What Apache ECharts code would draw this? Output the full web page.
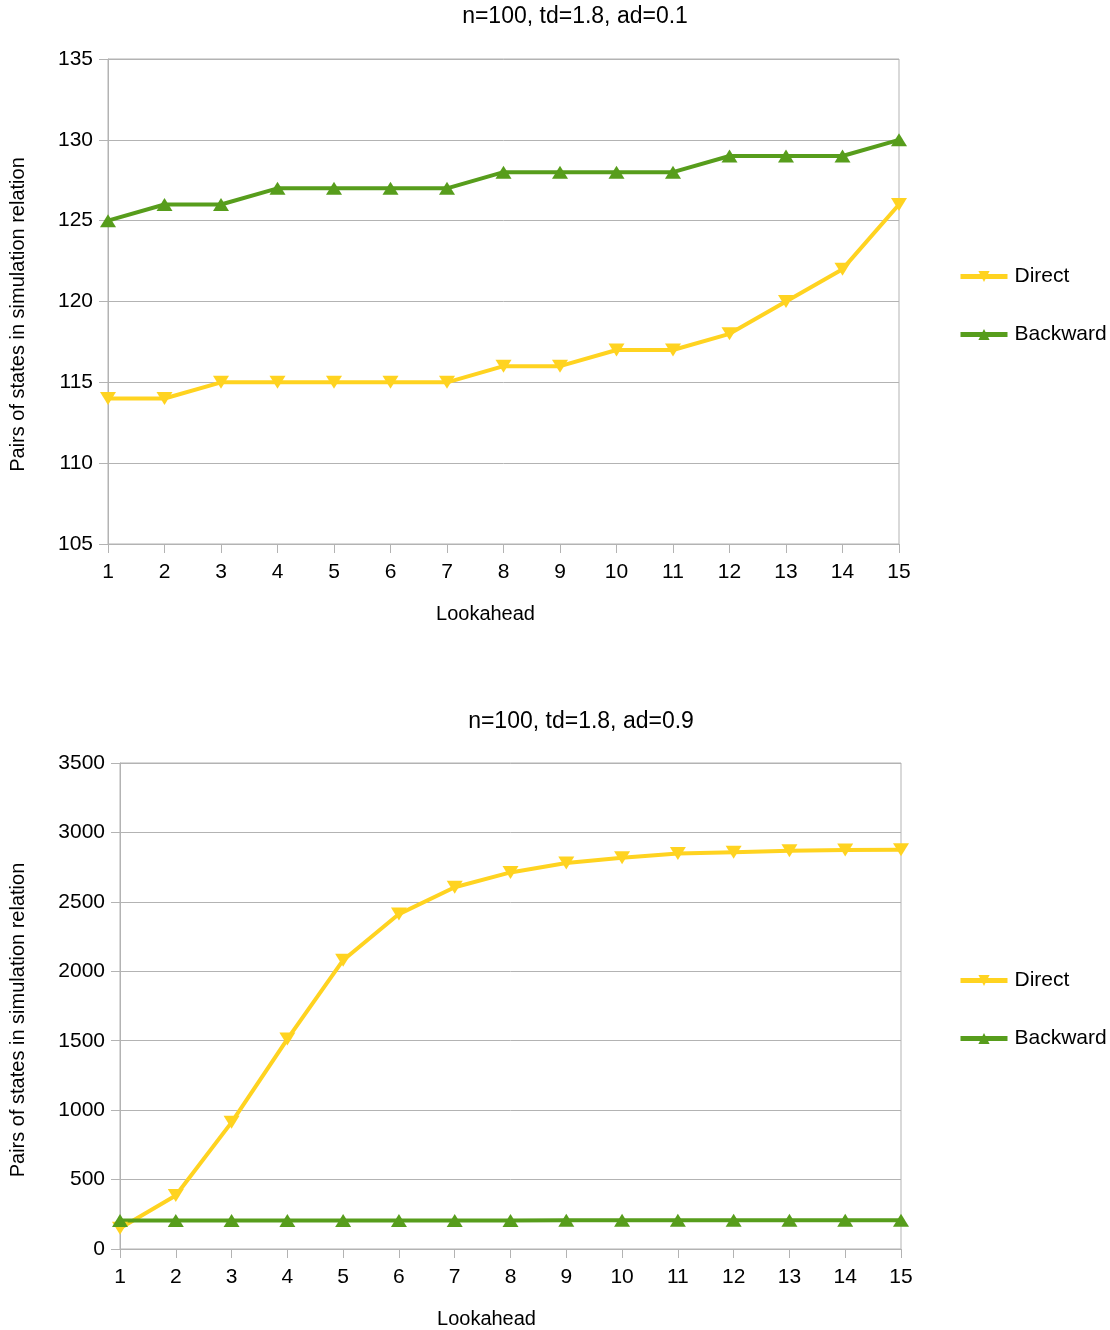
<!DOCTYPE html>
<html>
<head>
<meta charset="utf-8">
<title>Simulation relation size vs lookahead</title>
<script src="https://cdn.jsdelivr.net/npm/echarts@6/dist/echarts.min.js"></script>
<style>
  html, body { margin: 0; padding: 0; background: #ffffff; }
  #chart { width: 1110px; height: 1330px; }
</style>
</head>
<body>
<div id="chart"></div>
<script>
// Lookahead values shared by both panels
const lookahead = ['1','2','3','4','5','6','7','8','9','10','11','12','13','14','15'];

// Panel 1: n=100, td=1.8, ad=0.1
const title1 = 'n=100, td=1.8, ad=0.1';
const direct1   = [114, 114, 115, 115, 115, 115, 115, 116, 116, 117, 117, 118, 120, 122, 126];
const backward1 = [125, 126, 126, 127, 127, 127, 127, 128, 128, 128, 128, 129, 129, 129, 130];

// Panel 2: n=100, td=1.8, ad=0.9
const title2 = 'n=100, td=1.8, ad=0.9';
const direct2   = [150, 385, 912, 1512, 2080, 2412, 2605, 2712, 2780, 2818, 2848, 2858, 2868, 2873, 2876];
const backward2 = [205, 205, 205, 205, 206, 206, 206, 206, 207, 207, 207, 207, 207, 207, 207];

const seriesNames = ['Direct', 'Backward'];
const yAxisName = 'Pairs of states in simulation relation';
const xAxisName = 'Lookahead';

const FONT = '"Liberation Sans", Arial, sans-serif';
const YELLOW = '#ffd320';
const GREEN = '#579d1c';
const GRID_GREY = '#b3b3b3';
const TEXT = '#000000';
const DOWN_TRIANGLE = 'path://M0,0 L10,0 L5,9 Z';

// nameShift: extra right padding that moves the centred axis title left
function xAxisFor(gridIndex, nameShift) {
  return {
    type: 'category',
    gridIndex: gridIndex,
    data: lookahead,
    boundaryGap: false,
    name: xAxisName,
    nameLocation: 'middle',
    nameGap: 60,
    nameTextStyle: { fontFamily: FONT, fontSize: 20, color: TEXT, padding: [0, nameShift, 0, 0] },
    axisLine: { show: true, lineStyle: { color: GRID_GREY, width: 1 } },
    axisTick: { show: true, inside: false, length: 9, alignWithLabel: true, lineStyle: { color: GRID_GREY } },
    axisLabel: { fontFamily: FONT, fontSize: 21, color: TEXT, margin: 18 },
    splitLine: { show: false }
  };
}

// nameShift: extra padding at the end of the rotated title, moving it down
function yAxisFor(gridIndex, min, max, interval, nameGap, nameShift) {
  return {
    type: 'value',
    gridIndex: gridIndex,
    min: min,
    max: max,
    interval: interval,
    name: yAxisName,
    nameLocation: 'middle',
    nameGap: nameGap,
    nameTextStyle: { fontFamily: FONT, fontSize: 20, color: TEXT, padding: [0, nameShift, 0, 0] },
    axisLine: { show: true, lineStyle: { color: GRID_GREY, width: 1 } },
    axisTick: { show: true, inside: false, length: 9, lineStyle: { color: GRID_GREY } },
    axisLabel: { fontFamily: FONT, fontSize: 21, color: TEXT, margin: 15, formatter: function (v) { return String(v); } },
    splitLine: { show: true, lineStyle: { color: GRID_GREY, width: 1 } }
  };
}

function lineSeries(name, data, axisIndex, color, symbol) {
  return {
    name: name,
    type: 'line',
    xAxisIndex: axisIndex,
    yAxisIndex: axisIndex,
    data: data,
    symbol: symbol,
    symbolSize: [16, 13],
    showAllSymbol: true,
    clip: false,
    lineStyle: { color: color, width: 4 },
    itemStyle: { color: color },
    emphasis: { disabled: true },
    animation: false
  };
}

function legendFor(top) {
  return {
    orient: 'vertical',
    left: 958,
    top: top,
    padding: 0,
    itemWidth: 47,
    itemHeight: 14,
    itemGap: 37,
    lineStyle: { width: 5 },
    textStyle: { fontFamily: FONT, fontSize: 21, color: TEXT, padding: [0, 0, 0, 2] },
    data: seriesNames,
    selectedMode: false
  };
}

const chart = echarts.init(document.getElementById('chart'), null, { renderer: 'canvas' });

chart.setOption({
  backgroundColor: '#ffffff',
  animation: false,
  graphic: [
    { type: 'text', x: 575, y: 17, style: { text: title1, font: '23px ' + FONT, fill: TEXT, textAlign: 'center', textVerticalAlign: 'middle' } },
    { type: 'text', x: 581, y: 722, style: { text: title2, font: '23px ' + FONT, fill: TEXT, textAlign: 'center', textVerticalAlign: 'middle' } }
  ],
  grid: [
    { left: 108, top: 59, width: 791, height: 485, show: true, borderColor: GRID_GREY, borderWidth: 1, backgroundColor: 'transparent' },
    { left: 120, top: 763, width: 781, height: 486, show: true, borderColor: GRID_GREY, borderWidth: 1, backgroundColor: 'transparent' }
  ],
  legend: [legendFor(266), legendFor(970)],
  xAxis: [xAxisFor(0, 36), xAxisFor(1, 48)],
  yAxis: [
    yAxisFor(0, 105, 135, 5, 80, 26),
    yAxisFor(1, 0, 3500, 500, 92, 28)
  ],
  series: [
    lineSeries(seriesNames[0], direct1, 0, YELLOW, DOWN_TRIANGLE),
    lineSeries(seriesNames[1], backward1, 0, GREEN, 'triangle'),
    lineSeries(seriesNames[0], direct2, 1, YELLOW, DOWN_TRIANGLE),
    lineSeries(seriesNames[1], backward2, 1, GREEN, 'triangle')
  ]
});
</script>
</body>
</html>
